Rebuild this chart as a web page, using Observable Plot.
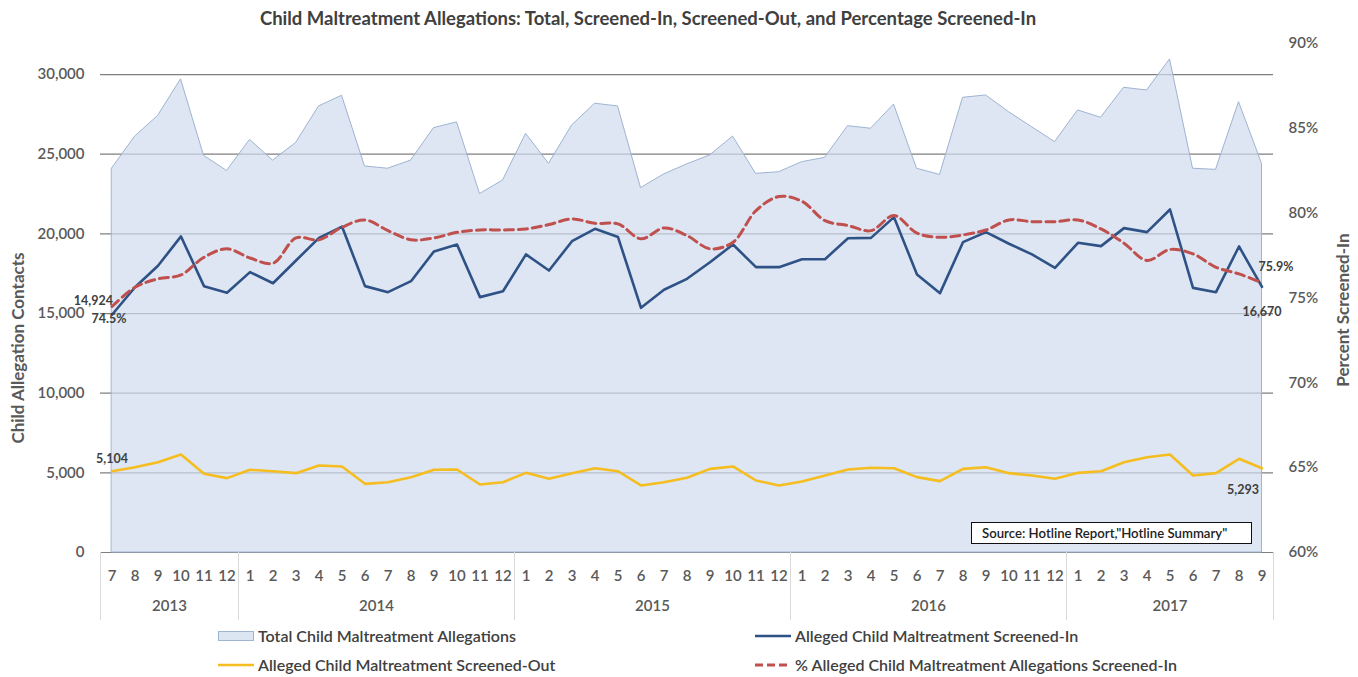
<!DOCTYPE html>
<html>
<head>
<meta charset="utf-8">
<script src="https://cdn.jsdelivr.net/npm/d3@7"></script>
<script src="https://cdn.jsdelivr.net/npm/@observablehq/plot@0.6"></script>
<style>
  body { margin: 0; background: #fff; }
  #wrap { position: relative; width: 1358px; height: 677px; overflow: hidden; font-family: Lato, "Open Sans", sans-serif; }
  #title { position: absolute; left: 0; top: 6px; width: 1296px; text-align: center; font-size: 18.5px; font-weight: 700; color: #404040; line-height: 24px; }
  #chart { position: absolute; left: 0; top: 35px; }
  .leg { position: absolute; display: flex; align-items: center; font-size: 16px; font-weight: 600; color: #404040; white-space: nowrap; line-height: 18px; }
  .leg svg { margin-right: 4px; }
  #source { position: absolute; left: 971px; top: 522px; width: 269px; height: 20px; border: 1.5px solid #111; background: #fff; font-size: 13.2px; font-weight: 600; color: #222; line-height: 20px; padding-left: 10px; box-sizing: content-box; white-space: nowrap; }
</style>
</head>
<body>
<div id="wrap">
  <div id="title">Child Maltreatment Allegations: Total, Screened-In, Screened-Out, and Percentage Screened-In</div>
  <div id="chart"></div>
  <div id="source">Source: Hotline Report,"Hotline Summary"</div>
  <div class="leg" style="left:218px;top:627px">
    <svg width="36" height="12"><rect x="0.5" y="1.5" width="35" height="9" fill="#dce5f2" stroke="#9fb4d2"/></svg>Total Child Maltreatment Allegations</div>
  <div class="leg" style="left:755px;top:627px">
    <svg width="36" height="12"><line x1="0" y1="6" x2="36" y2="6" stroke="#2f5286" stroke-width="2.6"/></svg>Alleged Child Maltreatment Screened-In</div>
  <div class="leg" style="left:218px;top:656px">
    <svg width="36" height="12"><line x1="0" y1="6" x2="36" y2="6" stroke="#f5bd1f" stroke-width="2.6"/></svg>Alleged Child Maltreatment Screened-Out</div>
  <div class="leg" style="left:755px;top:656px">
    <svg width="36" height="12"><line x1="0" y1="6" x2="36" y2="6" stroke="#c0504d" stroke-width="3" stroke-dasharray="8,4"/></svg>% Alleged Child Maltreatment Allegations Screened-In</div>
</div>
<script>
// ---- data ----
const monthLabels = [7,8,9,10,11,12,
  1,2,3,4,5,6,7,8,9,10,11,12,
  1,2,3,4,5,6,7,8,9,10,11,12,
  1,2,3,4,5,6,7,8,9,10,11,12,
  1,2,3,4,5,6,7,8,9];
const years = ["2013","2014","2015","2016","2017"];
const yearMonthCounts = [6,12,12,12,9];

const total = [24100,26100,27400,29700,24900,23950,25900,24600,25700,28000,28670,24230,24090,24600,26640,27000,22500,23350,26280,24400,26800,28170,28000,22870,23730,24360,24920,26110,23770,23870,24500,24770,26760,26600,28120,24090,23700,28540,28690,27640,26700,25760,27750,27290,29170,29000,30950,24090,24020,28270,24400];
const screenedIn = [14924,16650,18000,19840,16720,16300,17600,16900,18330,19750,20460,16720,16340,17030,18900,19330,16030,16400,18710,17700,19540,20320,19800,15360,16490,17180,18220,19330,17910,17910,18410,18410,19730,19750,21050,17450,16280,19480,20110,19380,18710,17870,19440,19230,20360,20110,21530,16610,16340,19210,16670];
const screenedOut = [5104,5350,5670,6150,4940,4670,5190,5100,4980,5460,5400,4310,4410,4730,5190,5210,4270,4410,5000,4630,4980,5290,5100,4210,4410,4690,5250,5400,4520,4210,4460,4830,5210,5320,5290,4730,4480,5250,5350,4980,4830,4630,5000,5100,5670,5980,6150,4830,4980,5880,5293];
const pctIn = [74.5,75.63,76.13,76.36,77.40,77.90,77.36,77.05,78.54,78.43,79.17,79.60,78.97,78.43,78.54,78.87,79.01,79.01,79.07,79.33,79.66,79.40,79.37,78.49,79.13,78.68,77.90,78.29,80.15,80.98,80.70,79.56,79.27,78.97,79.86,78.82,78.58,78.72,79.01,79.60,79.50,79.50,79.60,79.07,78.23,77.21,77.86,77.60,76.81,76.42,75.9];

const leftTicks = [0,5000,10000,15000,20000,25000,30000];
const pctTicks = [60,65,70,75,80,85,90];

// ---- layout ----
const W = 1358, H = 590, ML = 100, MR = 85, MT = 8, MB = 73;
const Y_MAX = 31950;          // left-axis value at the top of the plot
const P_MIN = 60, P_MAX = 90; // right-axis range
const pctToY = p => (p - P_MIN) / (P_MAX - P_MIN) * Y_MAX;
const yToPct = y => Math.round(y / Y_MAX * (P_MAX - P_MIN) + P_MIN);
const fmt = d3.format(",");

const rows = monthLabels.map((m, i) => ({
  i, m, total: total[i], in: screenedIn[i], out: screenedOut[i], pct: pctIn[i]
}));
let s = 0;
const yearGroups = years.map((y, k) => {
  const g = {year: y, first: s, last: s + yearMonthCounts[k] - 1};
  s += yearMonthCounts[k];
  return g;
});
const seps = [-0.5, ...yearGroups.map(g => g.last + 0.5)];
const last = rows.length - 1;

const font = "Lato, 'Open Sans', sans-serif";
const tc = "#595959";
const lc = "#404040";

const chart = Plot.plot({
  width: W, height: H,
  marginLeft: ML, marginRight: MR, marginTop: MT, marginBottom: MB,
  style: {fontFamily: font, fontSize: "15px", background: "white", overflow: "visible"},
  x: {type: "linear", domain: [-0.5, rows.length - 0.5]},
  y: {domain: [0, Y_MAX]},
  marks: [
    Plot.ruleY(leftTicks, {stroke: "#7f7f7f", strokeWidth: 1.2}),
    Plot.areaY(rows, {x: "i", y: "total", fill: "#cfdbed", fillOpacity: 0.7, stroke: "#9fb4d2", strokeWidth: 1}),
    Plot.lineY(rows, {x: "i", y: "out", stroke: "#f5bd1f", strokeWidth: 2.6}),
    Plot.lineY(rows, {x: "i", y: "in", stroke: "#2f5286", strokeWidth: 2.6}),
    Plot.lineY(rows, {x: "i", y: d => pctToY(d.pct), stroke: "#c0504d", strokeWidth: 3, strokeDasharray: "9,5", curve: "catmull-rom"}),
    Plot.ruleX(seps, {x: d => d, insetTop: H - MT - MB, insetBottom: -68, stroke: "#d9d9d9"}),
    Plot.axisY({ticks: leftTicks, tickFormat: fmt, tickSize: 0, tickPadding: 16, fontSize: 15, fontWeight: 600, fill: tc, label: null}),
    Plot.axisY({anchor: "right", ticks: pctTicks.map(pctToY), tickFormat: d => yToPct(d) + "%", tickSize: 0, tickPadding: 15, fontSize: 15, fontWeight: 600, fill: tc, label: null}),
    Plot.axisX({ticks: rows.map(r => r.i), tickFormat: i => monthLabels[i], tickSize: 0, tickPadding: 18, fontSize: 15, fontWeight: 600, fill: tc, label: null}),
    Plot.text(yearGroups, {x: d => (d.first + d.last) / 2, frameAnchor: "bottom", dy: 58, text: "year", fontSize: 15, fontWeight: 600, fill: tc}),
    Plot.text(["Child Allegation Contacts"], {frameAnchor: "left", textAnchor: "middle", rotate: -90, dx: -82, dy: 50, fontSize: 17, fontWeight: 700, fill: tc}),
    Plot.text(["Percent Screened-In"], {frameAnchor: "right", textAnchor: "middle", rotate: -90, dx: 70, dy: 12, fontSize: 17, fontWeight: 700, fill: tc}),
    // end-point data labels
    Plot.text([rows[0]], {x: "i", y: "in", text: d => fmt(d.in), dx: 1, dy: -14, textAnchor: "end", fontSize: 12.5, fontWeight: 700, fill: lc}),
    Plot.text([rows[0]], {x: "i", y: d => pctToY(d.pct), text: d => d.pct + "%", dx: -3, dy: 13, fontSize: 12.5, fontWeight: 700, fill: lc}),
    Plot.text([rows[0]], {x: "i", y: "out", text: d => fmt(d.out), dy: -12, fontSize: 12.5, fontWeight: 700, fill: lc}),
    Plot.text([rows[last]], {x: "i", y: d => pctToY(d.pct), text: d => d.pct + "%", dx: 14, dy: -16, fontSize: 12.5, fontWeight: 700, fill: lc}),
    Plot.text([rows[last]], {x: "i", y: "in", text: d => fmt(d.in), dy: 25, fontSize: 12.5, fontWeight: 700, fill: lc}),
    Plot.text([rows[last]], {x: "i", y: "out", text: d => fmt(d.out), dx: -19, dy: 22, fontSize: 12.5, fontWeight: 700, fill: lc})
  ]
});
document.getElementById("chart").appendChild(chart);
</script>
</body>
</html>
